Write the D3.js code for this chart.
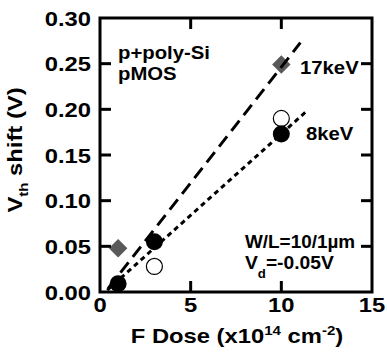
<!DOCTYPE html>
<html><head><meta charset="utf-8">
<script src="https://cdn.jsdelivr.net/npm/d3@7"></script>
<style>body{margin:0;background:#fff}svg{display:block}text{font-family:"Liberation Sans",Arial,sans-serif;font-weight:bold;fill:#000}</style>
</head><body><svg id="c" width="387" height="354"></svg>
<script>
const xTicks=[0,5,10,15];
const yTicks=[0,0.05,0.10,0.15,0.20,0.25,0.30];
const dose17=[1,10];
const shift17=[0.048,0.249];
const dose8=[1,3,10];
const shift8Filled=[0.009,0.055,0.173];
const doseOpen=[3,10];
const shiftOpen=[0.028,0.190];
const fit17X=[0.45,11.05];
const fit17Y=[0.004,0.273];
const fit8X=[0.4,11.45];
const fit8Y=[0.002,0.199];

const svg=d3.select("#c");
const L=100,R=372,T=18,B=292;
const SX=1.16;
const x=d3.scaleLinear().domain([0,15]).range([L,R]);
const y=d3.scaleLinear().domain([0,0.30]).range([B,T]);

function txt(px,py,size,anchor,rot,sx){
  const g=svg.append("g").attr("transform",`translate(${px},${py})`+(rot?` rotate(${rot})`:"")+` scale(${sx||SX},1)`);
  return g.append("text").attr("font-size",size).attr("text-anchor",anchor||"start");
}

// markers
svg.selectAll(".open").data(d3.zip(doseOpen,shiftOpen)).join("circle").attr("cx",d=>x(d[0])).attr("cy",d=>y(d[1])).attr("r",8).attr("fill","#fff").attr("stroke","#000").attr("stroke-width",1.2);
svg.selectAll(".filled").data(d3.zip(dose8,shift8Filled)).join("circle").attr("cx",d=>x(d[0])).attr("cy",d=>y(d[1])).attr("r",8.5).attr("fill","#000");
svg.selectAll(".dia").data(d3.zip(dose17,shift17)).join("path").attr("d",d3.symbol(d3.symbolSquare,170)).attr("transform",d=>`translate(${x(d[0])},${y(d[1])}) rotate(45)`).attr("fill","#595959");

// lines
const line=d3.line().x(d=>x(d[0])).y(d=>y(d[1]));
svg.append("path").datum(d3.zip(fit17X,fit17Y)).attr("d",line).attr("fill","none").attr("stroke","#000").attr("stroke-width",3).attr("stroke-dasharray","13,7");
svg.append("path").datum(d3.zip(fit8X,fit8Y)).attr("d",line).attr("fill","none").attr("stroke","#000").attr("stroke-width",3).attr("stroke-dasharray","5,4");

// frame and ticks
const g=svg.append("g");
g.append("rect").attr("x",L).attr("y",T).attr("width",R-L).attr("height",B-T).attr("fill","none").attr("stroke","#000").attr("stroke-width",3);
const tl=11;
xTicks.slice(1,-1).forEach(v=>{
  g.append("line").attr("x1",x(v)).attr("x2",x(v)).attr("y1",B).attr("y2",B-tl).attr("stroke","#000").attr("stroke-width",3);
  g.append("line").attr("x1",x(v)).attr("x2",x(v)).attr("y1",T).attr("y2",T+tl).attr("stroke","#000").attr("stroke-width",3);
});
yTicks.slice(1,-1).forEach(v=>{
  g.append("line").attr("x1",L).attr("x2",L+tl).attr("y1",y(v)).attr("y2",y(v)).attr("stroke","#000").attr("stroke-width",3);
  g.append("line").attr("x1",R).attr("x2",R-tl).attr("y1",y(v)).attr("y2",y(v)).attr("stroke","#000").attr("stroke-width",3);
});
// tick labels
xTicks.forEach(d=>txt(x(d),312,20.5,"middle").text(d));
yTicks.forEach(d=>txt(91,y(d)+7.5,20.5,"end").text(d.toFixed(2)));

// axis titles
const xt=txt(237,343,20.5,"middle");
xt.append("tspan").text("F Dose (x10");
xt.append("tspan").attr("font-size",13).attr("dy",-8).text("14");
xt.append("tspan").attr("dy",8).text(" cm");
xt.append("tspan").attr("font-size",13).attr("dy",-8).text("-2");
xt.append("tspan").attr("dy",8).text(")");
const yt=txt(22,150,20.5,"middle",-90);
yt.append("tspan").text("V");
yt.append("tspan").attr("font-size",13).attr("dy",6).text("th");
yt.append("tspan").attr("dy",-6).text(" shift (V)");

// annotations
txt(118,59,17.5).text("p+poly-Si");
txt(118,80,17.5).text("pMOS");
txt(300,74,17.5).text("17keV");
txt(306,140,17.5).text("8keV");
txt(245,248,17.5,"start",0,1.08).text("W/L=10/1\u00b5m");
const vd=txt(245,269,17.5,"start",0,1.1);
vd.append("tspan").text("V");
vd.append("tspan").attr("font-size",12).attr("dy",9).text("d");
vd.append("tspan").attr("dy",-9).text("=-0.05V");
</script></body></html>
